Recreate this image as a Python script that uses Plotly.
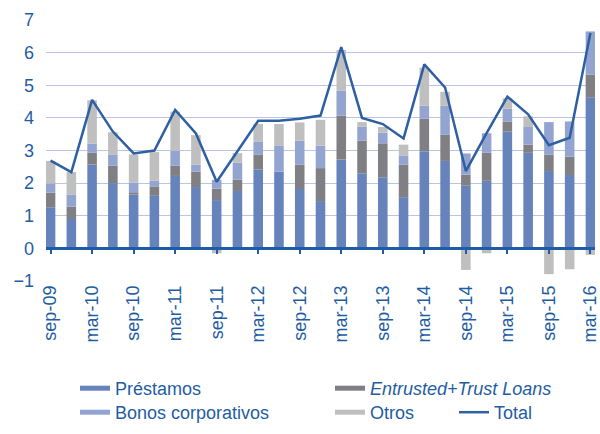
import plotly.graph_objects as go

quarters = ["sep-09", "dec-09", "mar-10", "jun-10", "sep-10", "dec-10", "mar-11", "jun-11",
            "sep-11", "dec-11", "mar-12", "jun-12", "sep-12", "dec-12", "mar-13", "jun-13",
            "sep-13", "dec-13", "mar-14", "jun-14", "sep-14", "dec-14", "mar-15", "jun-15",
            "sep-15", "dec-15", "mar-16"]

prestamos = [1.26, 0.90, 2.57, 2.00, 1.65, 1.61, 2.22, 1.88, 1.48, 1.76, 2.42, 2.35, 1.82, 1.45,
             2.72, 2.30, 2.18, 1.57, 2.98, 2.68, 1.92, 2.07, 3.58, 2.93, 2.37, 2.25, 4.63]
entrusted = [0.45, 0.38, 0.36, 0.54, 0.07, 0.29, 0.32, 0.47, 0.35, 0.35, 0.46, 0.00, 0.75, 1.01,
             1.35, 1.00, 1.04, 1.00, 1.00, 0.80, 0.34, 0.86, 0.31, 0.25, 0.50, 0.56, 0.70]
bonos = [0.28, 0.36, 0.28, 0.34, 0.30, 0.18, 0.45, 0.21, 0.27, 0.52, 0.40, 0.79, 0.73, 0.69,
         0.76, 0.43, 0.33, 0.28, 0.39, 0.89, 0.65, 0.60, 0.39, 0.54, 1.00, 1.08, 1.32]
otros = [0.69, 0.70, 1.33, 0.68, 0.86, 0.87, 1.20, 0.91, -0.15, 0.29, 0.53, 0.67, 0.56, 0.79,
         1.25, 0.14, 0.17, 0.33, 1.17, 0.43, -0.66, -0.15, 0.32, 0.33, -0.79, -0.64, -0.20]
total = [2.69, 2.34, 4.55, 3.58, 2.91, 3.00, 4.24, 3.52, 2.04, 2.97, 3.91, 3.91, 3.97, 4.07,
         6.17, 4.00, 3.81, 3.37, 5.64, 4.93, 2.37, 3.53, 4.65, 4.11, 3.16, 3.39, 6.60]

y_ticks = [-1, 0, 1, 2, 3, 4, 5, 6, 7]

xs = list(range(len(quarters)))
tick_idx = xs[::2]
tick_lbl = quarters[::2]

C_PREST = "#6683BC"
C_ENTR = "#808084"
C_BONOS = "#94A4D1"
C_OTROS = "#BFBFBF"
C_TOTAL = "#2F5FA3"
C_TEXT = "#1F5DA3"
C_AXIS = "#1F5CA6"
C_GRID = "#B8C5E6"
FONT = "Liberation Sans, Arial, sans-serif"

W, H = 600, 434
ml, mr, mt, mb = 46, 5, 20, 153
pw, ph = W - ml - mr, H - mt - mb

def px_x(p):
    return (p - ml) / pw

def px_y(p):
    return (H - mb - p) / ph

ROW1, ROW2 = 370, 394
COL1, COL2, COL3 = 75, 330, 454

fig = go.Figure()
series = [("Préstamos", prestamos, C_PREST, "legend", COL1, ROW1),
          ("<i>Entrusted+Trust Loans</i>", entrusted, C_ENTR, "legend2", COL2, ROW1),
          ("Bonos corporativos", bonos, C_BONOS, "legend3", COL1, ROW2),
          ("Otros", otros, C_OTROS, "legend4", COL2, ROW2)]
for name, vals, col, *_ in series:
    fig.add_trace(go.Bar(x=xs, y=vals, name=name, marker=dict(color=col, line=dict(width=0)),
                         width=0.46, showlegend=False))

fig.add_trace(go.Scatter(x=xs, y=total, name="Total", mode="lines",
                         line=dict(color=C_TOTAL, width=2.5), xaxis="x2", yaxis="y",
                         legend="legend5", showlegend=True))

# legend proxies (wide swatches)
for name, vals, col, lg, *_ in series:
    fig.add_trace(go.Scatter(x=[None], y=[None], mode="lines", name=name,
                             line=dict(color=col, width=5), legend=lg, showlegend=True))

leg_font = dict(family=FONT, size=18, color=C_TEXT)

def leg(xp, yp):
    return dict(x=px_x(xp), y=px_y(yp), xanchor="left", yanchor="top", orientation="v",
                font=leg_font, bgcolor="rgba(0,0,0,0)")

fig.update_layout(
    width=W, height=H,
    margin=dict(l=ml, r=mr, t=mt, b=mb, autoexpand=False),
    paper_bgcolor="white", plot_bgcolor="white",
    barmode="relative",
    font=dict(family=FONT, color=C_TEXT),
    xaxis=dict(range=[-0.22, 26.22], tickmode="array", tickvals=tick_idx, ticktext=tick_lbl,
               tickangle=-90, ticks="", showline=False, showgrid=False, zeroline=False,
               ticklabeloverflow="allow",
               tickfont=dict(family=FONT, size=18, color=C_TEXT)),
    xaxis2=dict(overlaying="x", matches="x", anchor="free", position=1 / 8, side="bottom",
                range=[-0.22, 26.22], tickmode="array", tickvals=tick_idx,
                showticklabels=False, ticks="outside", ticklen=4, tickwidth=2, tickcolor=C_AXIS,
                showline=True, linecolor=C_AXIS, linewidth=3, showgrid=False, zeroline=False),
    yaxis=dict(range=[-1, 7], tickmode="array", tickvals=y_ticks, showgrid=True,
               gridcolor=C_GRID, gridwidth=1, zeroline=False, showline=False, ticks="",
               ticklabelstandoff=11,
               tickfont=dict(family=FONT, size=18, color=C_TEXT)),
    legend=leg(COL1, ROW1),
    legend2=leg(COL2, ROW1),
    legend3=leg(COL1, ROW2),
    legend4=leg(COL2, ROW2),
    legend5=leg(COL3, ROW2),
)

fig.write_html("out.html", config={"displayModeBar": False},
               post_script="document.body.style.margin='0';")
